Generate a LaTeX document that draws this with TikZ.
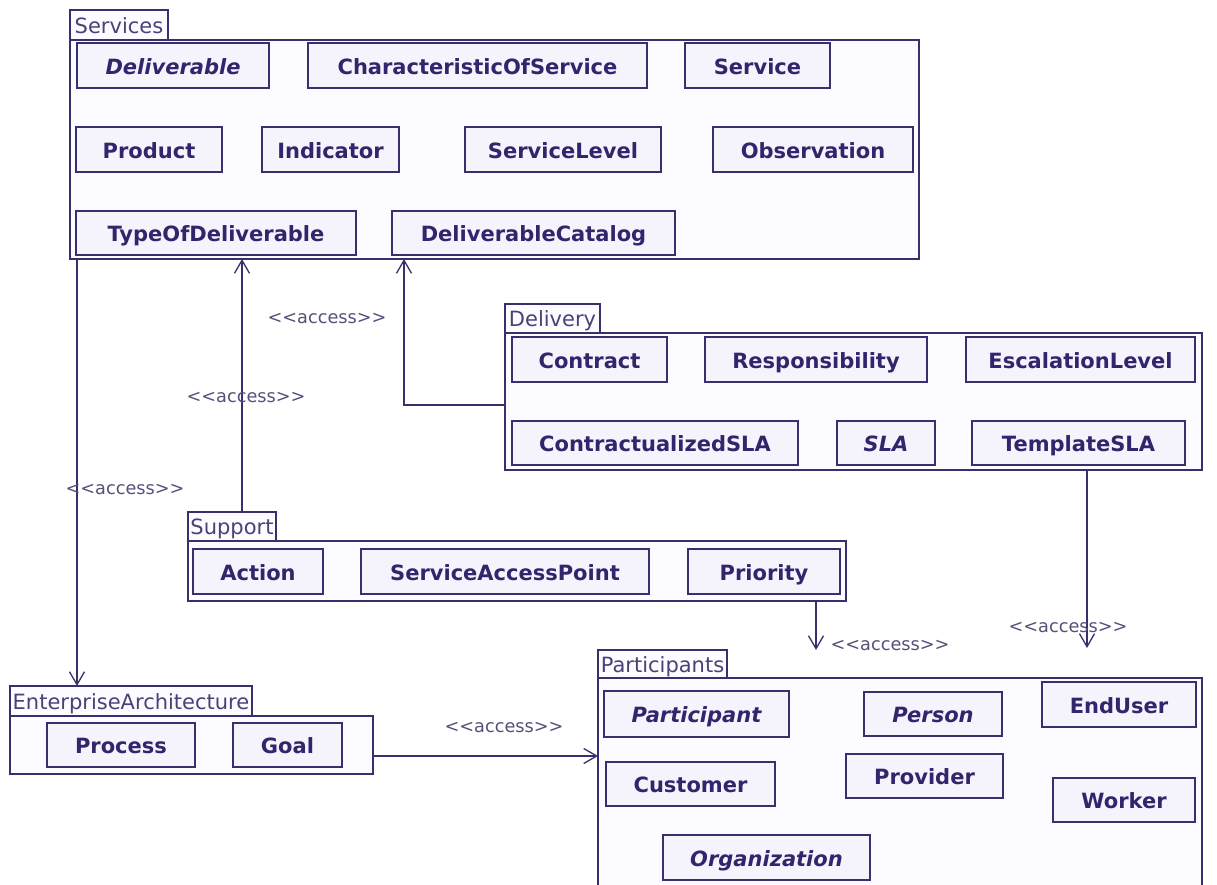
\documentclass[tikz,border=0pt]{standalone}
\usepackage{fontspec}
\setmainfont{DejaVu Sans}
\newfontfamily\lblfont{DejaVu Sans}
\usetikzlibrary{arrows.meta,calc}
\definecolor{ink}{HTML}{3A2E6C}
\definecolor{clstext}{HTML}{34246C}
\definecolor{tabtext}{HTML}{4A4276}
\definecolor{lbltext}{HTML}{55507A}
\definecolor{clsfill}{HTML}{F5F3FC}
\definecolor{pkgfill}{HTML}{FCFBFF}
% \umlbox{style}{name}{x1}{y1}{x2}{y2}{text}: box spanning two corners
\newcommand\umlbox[7]{%
  \node[#1, minimum width={#5-#3}, minimum height={#6-#4}] (#2)
    at ({(#3+#5)/2},{(#4+#6)/2}) {#7};}
\begin{document}
\begin{tikzpicture}[x=1pt,y=-1pt,
  pkgbody/.style={draw=ink, line width=1.6pt, fill=pkgfill, inner sep=0pt, outer sep=0pt},
  pkgtab/.style={draw=ink, line width=1.6pt, fill=pkgfill, inner sep=0pt, outer sep=0pt,
    text=tabtext, font=\fontsize{21}{24}\selectfont, text height=17pt, text depth=1pt},
  cls/.style={draw=ink, line width=1.7pt, fill=clsfill, inner sep=0pt, outer sep=0pt,
    text=clstext, font=\fontsize{21}{24}\selectfont\bfseries,
    text height=18pt, text depth=1pt},
  abscls/.style={cls, font=\fontsize{21}{24}\selectfont\bfseries\itshape},
  acc/.style={draw=ink, line width=1.5pt,
    -{Straight Barb[length=13pt,width=15pt,line width=1.3pt]}},
  lbl/.style={text=lbltext, inner sep=0pt, font=\lblfont\fontsize{17.7}{20}\selectfont}]
\useasboundingbox[fill=white] (0,0) rectangle (1217,884);

% ---------- Services ----------
\umlbox{pkgbody}{svc}{70}{40}{919}{259}{}
\umlbox{pkgtab}{svctab}{70}{10}{168}{40}{Services}
\umlbox{abscls}{deliverable}{77}{43}{269}{88}{Deliverable}
\umlbox{cls}{charsvc}{308}{43}{647}{88}{CharacteristicOfService}
\umlbox{cls}{service}{685}{43}{830}{88}{Service}
\umlbox{cls}{product}{76}{127}{222}{172}{Product}
\umlbox{cls}{indicator}{262}{127}{399}{172}{Indicator}
\umlbox{cls}{svclevel}{465}{127}{661}{172}{ServiceLevel}
\umlbox{cls}{observation}{713}{127}{913}{172}{Observation}
\umlbox{cls}{typedel}{76}{211}{356}{255}{TypeOfDeliverable}
\umlbox{cls}{delcat}{392}{211}{675}{255}{DeliverableCatalog}

% ---------- Delivery ----------
\umlbox{pkgbody}{dlv}{505}{333}{1202}{470}{}
\umlbox{pkgtab}{dlvtab}{505}{304}{600}{333}{Delivery}
\umlbox{cls}{contract}{512}{337}{667}{382}{Contract}
\umlbox{cls}{resp}{705}{337}{927}{382}{Responsibility}
\umlbox{cls}{esc}{966}{337}{1195}{382}{EscalationLevel}
\umlbox{cls}{csla}{512}{421}{798}{465}{ContractualizedSLA}
\umlbox{abscls}{sla}{837}{421}{935}{465}{SLA}
\umlbox{cls}{tsla}{972}{421}{1185}{465}{TemplateSLA}

% ---------- Support ----------
\umlbox{pkgbody}{sup}{188}{541}{846}{601}{}
\umlbox{pkgtab}{suptab}{188}{512}{276}{541}{Support}
\umlbox{cls}{action}{193}{549}{323}{594}{Action}
\umlbox{cls}{sap}{361}{549}{649}{594}{ServiceAccessPoint}
\umlbox{cls}{priority}{688}{549}{840}{594}{Priority}

% ---------- EnterpriseArchitecture ----------
\umlbox{pkgbody}{ea}{10}{716}{373}{774}{}
\umlbox{pkgtab}{eatab}{10}{686}{252}{716}{EnterpriseArchitecture}
\umlbox{cls}{process}{47}{723}{195}{767}{Process}
\umlbox{cls}{goal}{233}{723}{342}{767}{Goal}

% ---------- Participants ----------
\umlbox{pkgbody}{par}{598}{678}{1202}{892}{}
\umlbox{pkgtab}{partab}{598}{650}{727}{678}{Participants}
\umlbox{abscls}{participant}{604}{691}{789}{737}{Participant}
\umlbox{abscls}{person}{864}{692}{1002}{736}{Person}
\umlbox{cls}{enduser}{1042}{682}{1196}{727}{EndUser}
\umlbox{cls}{customer}{606}{762}{775}{806}{Customer}
\umlbox{cls}{provider}{846}{754}{1003}{798}{Provider}
\umlbox{cls}{worker}{1053}{778}{1195}{822}{Worker}
\umlbox{abscls}{organization}{663}{835}{870}{880}{Organization}

% ---------- access dependencies ----------
\coordinate (svcout) at ($(svc.south west)+(7,0)$);
\draw[acc] (svcout) -- (svcout |- eatab.north);

\coordinate (supout) at ($(suptab.north west)+(54,0)$);
\draw[acc] (supout) -- (supout |- svc.south);

\coordinate (dlvout) at ($(dlv.west)+(0,3.5)$);
\coordinate (dlvin) at ($(svc.south west)+(334,0)$);
\draw[acc] (dlvout) -| (dlvin);

\coordinate (supdown) at ($(sup.south west)+(628,0)$);
\coordinate (supend) at ($(supdown)+(0,49)$);
\draw[acc] (supdown) -- (supend);

\coordinate (dlvdown) at ($(dlv.south west)+(582,0)$);
\coordinate (dlvend) at ($(dlvdown |- partab.north)+(0,-2)$);
\draw[acc] (dlvdown) -- (dlvend);

\coordinate (eaout) at ($(ea.east)+(0,11)$);
\draw[acc] (eaout) -- (eaout -| par.west);

% ---------- labels ----------
\node[lbl] (l1) at (125,489) {<<access>>};
\node[lbl] (l2) at (246,397) {<<access>>};
\node[lbl] (l3) at (327,318) {<<access>>};
\node[lbl] (l4) at (890,645) {<<access>>};
\node[lbl] (l5) at (1068,627) {<<access>>};
\node[lbl] (l6) at (504,727) {<<access>>};
\end{tikzpicture}
\end{document}
